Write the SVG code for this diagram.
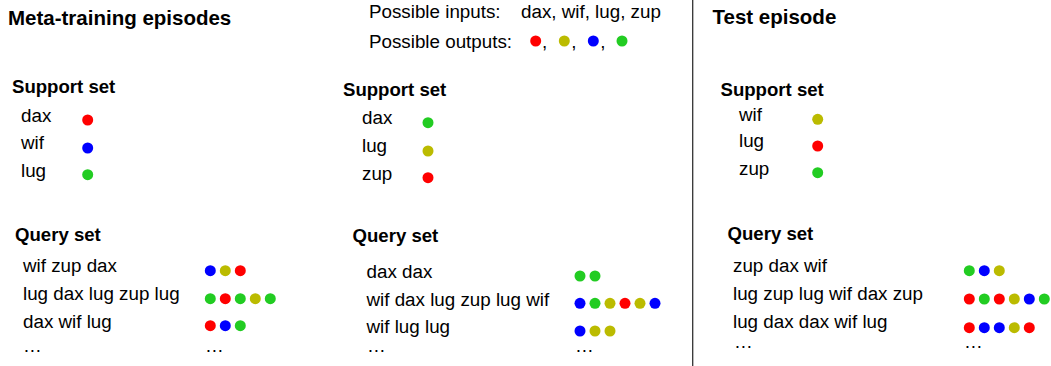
<svg xmlns="http://www.w3.org/2000/svg" width="1051" height="366" viewBox="0 0 1051 366">
<style>
text{font-family:"Liberation Sans",Arial,Helvetica,sans-serif;fill:#000}
.h{font-size:20.5px;font-weight:bold}
.b{font-size:18.6px;font-weight:bold}
.t{font-size:18.8px}
.r{fill:#ff0000}.y{fill:#bbbb00}.u{fill:#0000ff}.g{fill:#22cc22}
circle{stroke:none}
</style>
<rect width="1051" height="366" fill="#ffffff"/>
<g id="legend">
<text class="t" x="369" y="18.3">Possible inputs:</text>
<text class="t" x="521" y="18.3">dax, wif, lug, zup</text>
<text class="t" x="369" y="47.7">Possible outputs:</text>
<circle class="r" cx="535.7" cy="41" r="5.5"/>
<text class="t" x="542" y="48">,</text>
<circle class="y" cx="564.3" cy="41" r="5.5"/>
<text class="t" x="571.3" y="48">,</text>
<circle class="u" cx="593.3" cy="41" r="5.5"/>
<text class="t" x="600.3" y="48">,</text>
<circle class="g" cx="622" cy="41" r="5.5"/>
</g>
<g id="connectors">
<line x1="692.7" y1="0" x2="692.7" y2="366" stroke="#333333" stroke-width="1.3"/>
</g>
<g id="meta-training">
<text class="h" x="8" y="24.5">Meta-training episodes</text>
</g>
<g id="episode1-support">
<text class="b" x="12" y="93">Support set</text>
<text class="t" x="21" y="121.7">dax</text>
<text class="t" x="21" y="149">wif</text>
<text class="t" x="21" y="176.5">lug</text>
<circle class="r" cx="87.7" cy="120" r="5.5"/>
<circle class="u" cx="87.7" cy="148" r="5.5"/>
<circle class="g" cx="87.7" cy="174.7" r="5.5"/>
</g>
<g id="episode1-query">
<text class="b" x="15" y="241">Query set</text>
<text class="t" x="23" y="271.7">wif zup dax</text>
<text class="t" x="23" y="300">lug dax lug zup lug</text>
<text class="t" x="23" y="327.7">dax wif lug</text>
<text class="t" x="23" y="352">…</text>
<circle class="u" cx="210.3" cy="270.7" r="5.5"/>
<circle class="y" cx="225.3" cy="270.7" r="5.5"/>
<circle class="r" cx="240.3" cy="270.7" r="5.5"/>
<circle class="g" cx="210.3" cy="298.7" r="5.5"/>
<circle class="r" cx="225.3" cy="298.7" r="5.5"/>
<circle class="g" cx="240.3" cy="298.7" r="5.5"/>
<circle class="y" cx="255.3" cy="298.7" r="5.5"/>
<circle class="g" cx="270.3" cy="298.7" r="5.5"/>
<circle class="r" cx="210.3" cy="325.7" r="5.5"/>
<circle class="u" cx="225.3" cy="325.7" r="5.5"/>
<circle class="g" cx="240.3" cy="325.7" r="5.5"/>
<text class="t" x="205" y="352">…</text>
</g>
<g id="episode2-support">
<text class="b" x="343" y="95.5">Support set</text>
<text class="t" x="362" y="124">dax</text>
<text class="t" x="362" y="152.3">lug</text>
<text class="t" x="362" y="180">zup</text>
<circle class="g" cx="428" cy="122.7" r="5.5"/>
<circle class="y" cx="428" cy="151" r="5.5"/>
<circle class="r" cx="428" cy="177.7" r="5.5"/>
</g>
<g id="episode2-query">
<text class="b" x="352.5" y="242.3">Query set</text>
<text class="t" x="366.5" y="277.7">dax dax</text>
<text class="t" x="366.5" y="305.5">wif dax lug zup lug wif</text>
<text class="t" x="366.5" y="333">wif lug lug</text>
<text class="t" x="367" y="352">…</text>
<circle class="g" cx="580" cy="276" r="5.5"/>
<circle class="g" cx="595" cy="276" r="5.5"/>
<circle class="u" cx="580" cy="303.3" r="5.5"/>
<circle class="g" cx="595" cy="303.3" r="5.5"/>
<circle class="y" cx="610" cy="303.3" r="5.5"/>
<circle class="r" cx="625" cy="303.3" r="5.5"/>
<circle class="y" cx="640" cy="303.3" r="5.5"/>
<circle class="u" cx="655" cy="303.3" r="5.5"/>
<circle class="u" cx="580" cy="331" r="5.5"/>
<circle class="y" cx="595" cy="331" r="5.5"/>
<circle class="y" cx="610" cy="331" r="5.5"/>
<text class="t" x="575" y="352">…</text>
</g>
<g id="test-episode">
<text class="h" x="712.5" y="24">Test episode</text>
</g>
<g id="test-support">
<text class="b" x="720.5" y="95.7">Support set</text>
<text class="t" x="739" y="120.7">wif</text>
<text class="t" x="739" y="147.3">lug</text>
<text class="t" x="739" y="174.7">zup</text>
<circle class="y" cx="817.7" cy="119.3" r="5.5"/>
<circle class="r" cx="817.7" cy="146" r="5.5"/>
<circle class="g" cx="817.7" cy="172.7" r="5.5"/>
</g>
<g id="test-query">
<text class="b" x="727.5" y="240">Query set</text>
<text class="t" x="733" y="272.3">zup dax wif</text>
<text class="t" x="733" y="300">lug zup lug wif dax zup</text>
<text class="t" x="733" y="328.3">lug dax dax wif lug</text>
<text class="t" x="734" y="348.3">…</text>
<circle class="g" cx="969.3" cy="270.7" r="5.5"/>
<circle class="u" cx="984.3" cy="270.7" r="5.5"/>
<circle class="y" cx="999.3" cy="270.7" r="5.5"/>
<circle class="r" cx="969.3" cy="299" r="5.5"/>
<circle class="g" cx="984.3" cy="299" r="5.5"/>
<circle class="r" cx="999.3" cy="299" r="5.5"/>
<circle class="y" cx="1014.3" cy="299" r="5.5"/>
<circle class="u" cx="1029.3" cy="299" r="5.5"/>
<circle class="g" cx="1044.3" cy="299" r="5.5"/>
<circle class="r" cx="969.3" cy="327.7" r="5.5"/>
<circle class="u" cx="984.3" cy="327.7" r="5.5"/>
<circle class="u" cx="999.3" cy="327.7" r="5.5"/>
<circle class="y" cx="1014.3" cy="327.7" r="5.5"/>
<circle class="r" cx="1029.3" cy="327.7" r="5.5"/>
<text class="t" x="964" y="348.3">…</text>
</g>
</svg>
